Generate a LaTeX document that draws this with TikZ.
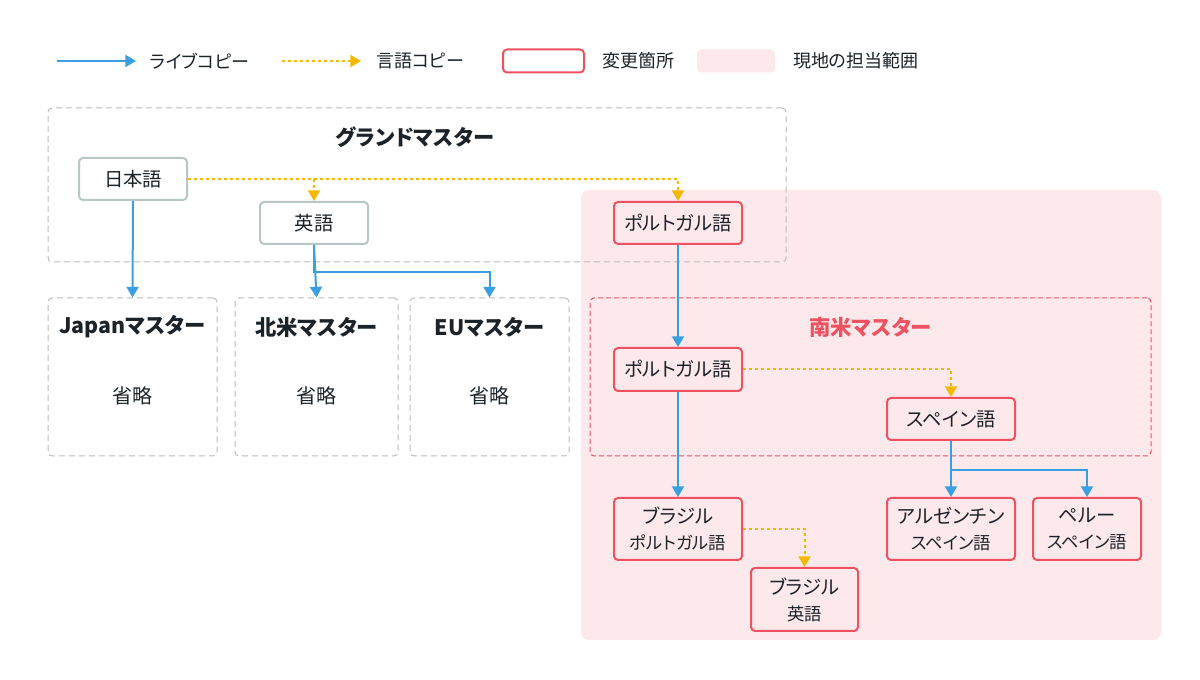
\documentclass[tikz,border=0pt]{standalone}
\usepackage{fontspec}
\setmainfont[RawFeature=+palt]{Noto Sans CJK JP}
\usetikzlibrary{arrows.meta}
\definecolor{cblue}{HTML}{3A9FE0}
\definecolor{corange}{HTML}{F5B800}
\definecolor{cred}{HTML}{EE5160}
\definecolor{cpink}{HTML}{FDE8EB}
\definecolor{cgray}{HTML}{B7C7C5}
\definecolor{cdash}{HTML}{BBBBBB}
\definecolor{ctext}{HTML}{1B2329}
\begin{document}
\begin{tikzpicture}[x=0.75pt,y=-0.75pt,
  font=\fontsize{14.5}{17}\selectfont, text=ctext,
  live/.style={cblue,line width=1.5pt,-{Triangle[width=9pt,length=8pt]}},
  lang/.style={corange,line width=1.5pt,dash pattern=on 2.25pt off 2.25pt,-{Triangle[width=9pt,length=8pt]}},
  graybox/.style={draw=cgray,line width=1.5pt,rounded corners=3pt,fill=white,minimum width=81pt,minimum height=31.5pt,inner sep=0pt},
  redbox/.style={draw=cred,line width=1.5pt,rounded corners=3pt,minimum width=96pt,minimum height=31.5pt,inner sep=0pt,align=center},
  masterbox/.style={draw=cdash,line width=0.75pt,dash pattern=on 4.5pt off 3pt,rounded corners=3pt,inner sep=0pt,minimum height=118.5pt},
  sabox/.style={draw=cred,line width=0.75pt,dash pattern=on 3.75pt off 2.25pt,rounded corners=3pt,inner sep=0pt},
  title/.style={font=\fontsize{16}{19}\selectfont\bfseries},
  omit/.style={font=\fontsize{15}{18}\selectfont},
  legtext/.style={font=\fontsize{13.5}{16}\selectfont,anchor=west,inner sep=0pt}
]
\path[use as bounding box,fill=white] (0,0) rectangle (1200,680);

% legend
\coordinate (la1) at (57,61);
\coordinate (la2) at (136,61);
\draw[live] (la1) -- (la2);
\node[legtext] (lt1) at (150,61) {ライブコピー};
\coordinate (lb1) at (282,61);
\coordinate (lb2) at (361,61);
\draw[lang] (lb1) -- (lb2);
\node[legtext] (lt2) at (376,61) {言語コピー};
\node[draw=cred,line width=1.5pt,rounded corners=3pt,minimum width=60.75pt,minimum height=17.25pt,inner sep=0pt] (lr) at (543.5,61) {};
\node[legtext] (lt3) at (602,61) {変更箇所};
\node[fill=cpink,rounded corners=3pt,minimum width=58.5pt,minimum height=17.25pt,inner sep=0pt] (lp) at (736,61) {};
\node[legtext] (lt4) at (793,61) {現地の担当範囲};

% pink region
\fill[cpink,rounded corners=6pt] (581,190) rectangle (1161,640);

% grand master
\node[masterbox,minimum width=553.5pt,minimum height=115.5pt] (gm) at (417,185) {};
\node[title] (gmt) at (415,137) {グランドマスター};
\node[graybox] (jp) at (133,179) {日本語};
\node[graybox] (en) at (314,223) {英語};
\node[redbox] (pt1) at (678,223) {ポルトガル語};

% masters
\node[masterbox,minimum width=126.75pt] (jpm) at (132.5,377) {};
\node[title] at (132.5,327) {Japanマスター};
\node[omit] at (132.5,396) {省略};
\node[masterbox,minimum width=122.25pt] (nam) at (316.5,377) {};
\node[title] at (316.5,327) {北米マスター};
\node[omit] at (316.5,396) {省略};
\node[masterbox,minimum width=119.25pt] (eum) at (489.5,377) {};
\node[title] at (489.5,327) {EUマスター};
\node[omit] at (489.5,396) {省略};

% south america master
\node[sabox,minimum width=420.75pt,minimum height=118.5pt] (sam) at (870.5,377) {};
\node[title,text=cred] at (870.5,327) {南米マスター};
\node[redbox,minimum height=32.25pt] (pt2) at (678,369.5) {ポルトガル語};
\node[redbox] (es) at (951,419) {スペイン語};

% local
\node[redbox,minimum height=46.5pt] (br) at (678,529) {ブラジル\\[2.5pt]{\fontsize{13}{15}\selectfont ポルトガル語}};
\node[redbox,minimum width=80.25pt,minimum height=47.25pt] (bren) at (804.5,599.5) {ブラジル\\[2.5pt]{\fontsize{13}{15}\selectfont 英語}};
\node[redbox,minimum height=46.5pt] (ar) at (951,529) {アルゼンチン\\[2.5pt]{\fontsize{13}{15}\selectfont スペイン語}};
\node[redbox,minimum width=81pt,minimum height=46.5pt] (pe) at (1087,529) {ペルー\\[2.5pt]{\fontsize{13}{15}\selectfont スペイン語}};

% connectors
\draw[lang] (jp.east) -| (pt1.north);
\draw[lang] (jp.east -| en.north) -- (en.north);
\draw[live] (jp.south) -- (jpm.north);
\draw[live] (en.south) -- (nam.north);
\draw[live] (en.south) -- ++(0,27) -| (eum.north);
\draw[live] (pt1.south) -- (pt2.north);
\draw[lang] (pt2.east) -| (es.north);
\draw[live] (pt2.south) -- (br.north);
\draw[lang] (br.east) -| (bren.north);
\draw[live] (es.south) -- (ar.north);
\draw[live] (es.south) -- ++(0,29) -| (pe.north);
\end{tikzpicture}
\end{document}
